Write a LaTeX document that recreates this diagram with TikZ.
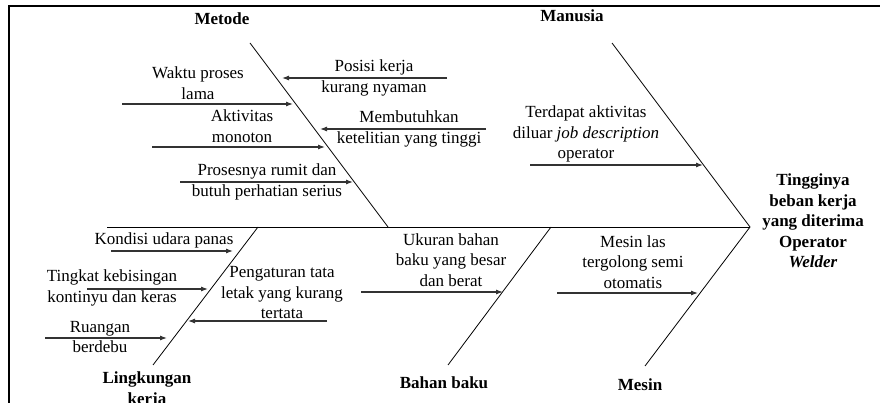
\documentclass[tikz,border=0pt]{standalone}
\usepackage{fontspec}
\setmainfont{Liberation Serif}
\usetikzlibrary{arrows.meta}

\begin{document}
\begin{tikzpicture}[x=1pt,y=-1pt,
    bone/.style={line width=0.8pt},
    cause/.style={-{Latex[length=7pt,width=5pt]}, line width=1.1pt, black!80},
    txt/.style={align=center, inner sep=0pt, font=\fontsize{17}{20.5}\selectfont},
    cat/.style={txt, font=\fontsize{17}{20.5}\selectfont\bfseries}]
    \useasboundingbox (0,0) rectangle (880,403);

    % frame
    \coordinate (frameL) at (9,403);
    \coordinate (frameTL) at (9,6);
    \coordinate (frameTR) at (880,6);
    \draw[line width=1.6pt] (frameL) -- (frameTL) -- (frameTR);

    % spine and bones
    \coordinate (tail) at (107,227);
    \coordinate (head) at (750,227);
    \coordinate (metTop) at (250,43);
    \coordinate (metBot) at (388,227);
    \coordinate (manTop) at (612,43);
    \coordinate (linTop) at (258,227);
    \coordinate (linBot) at (153,365);
    \coordinate (bahTop) at (551,227);
    \coordinate (bahBot) at (448,365);
    \coordinate (mesBot) at (645,366);

    \draw[bone] (tail) -- (head);
    \draw[bone] (metTop) -- (metBot);
    \draw[bone] (manTop) -- (head) -- (mesBot);
    \draw[bone] (linTop) -- (linBot);
    \draw[bone] (bahTop) -- (bahBot);

    % categories
    \node[cat] (metode) at (222,19) {Metode};
    \node[cat] (manusia) at (572,16) {Manusia};
    \node[cat] (lingkungan) at (147,390) {Lingkungan\\kerja};
    \node[cat] (bahan) at (444,383) {Bahan baku};
    \node[cat] (mesin) at (640,385) {Mesin};
    \node[cat] (akibat) at (813,221) {Tingginya\\beban kerja\\yang diterima\\Operator\\\textit{Welder}};

    % causes
    \node[txt] (posisi) at (374,78) {Posisi kerja\\kurang nyaman};
    \node[txt] (waktu) at (198,83) {Waktu proses\\lama};
    \node[txt] (teliti) at (409,129) {Membutuhkan\\ketelitian yang tinggi};
    \node[txt] (monoton) at (242,126) {Aktivitas\\monoton};
    \node[txt] (rumit) at (267,182) {Prosesnya rumit dan\\butuh perhatian serius};
    \node[txt] (jobdesc) at (586,134) {Terdapat aktivitas\\diluar \textit{job description}\\operator};
    \node[txt] (udara) at (164,240) {Kondisi udara panas};
    \node[txt] (bising) at (112,288) {Tingkat kebisingan\\kontinyu dan keras};
    \node[txt] (debu) at (100,337) {Ruangan\\berdebu};
    \node[txt] (tata) at (282,293) {Pengaturan tata\\letak yang kurang\\tertata};
    \node[txt] (ukuran) at (451,260) {Ukuran bahan\\baku yang besar\\dan berat};
    \node[txt] (las) at (633,262) {Mesin las\\tergolong semi\\otomatis};

    \coordinate (posisiS) at (447,78);   \coordinate (posisiE) at (282,78);
    \coordinate (waktuS) at (122,104);   \coordinate (waktuE) at (293,104);
    \coordinate (telitiS) at (486,129);  \coordinate (telitiE) at (320,129);
    \coordinate (monotonS) at (152,147); \coordinate (monotonE) at (325,147);
    \coordinate (rumitS) at (180,182);   \coordinate (rumitE) at (353,182);
    \coordinate (jobdescS) at (530,165); \coordinate (jobdescE) at (703,165);
    \coordinate (udaraS) at (111,251);   \coordinate (udaraE) at (233,251);
    \coordinate (bisingS) at (87,289);   \coordinate (bisingE) at (208,289);
    \coordinate (debuS) at (45,338);     \coordinate (debuE) at (167,338);
    \coordinate (tataS) at (327,321);    \coordinate (tataE) at (188,321);
    \coordinate (ukuranS) at (361,292);  \coordinate (ukuranE) at (503,292);
    \coordinate (lasS) at (557,293);     \coordinate (lasE) at (698,293);

    \foreach \c in {posisi,waktu,teliti,monoton,rumit,jobdesc,udara,bising,debu,tata,ukuran,las}
      \draw[cause] (\c S) -- (\c E);
\end{tikzpicture}
\end{document}
